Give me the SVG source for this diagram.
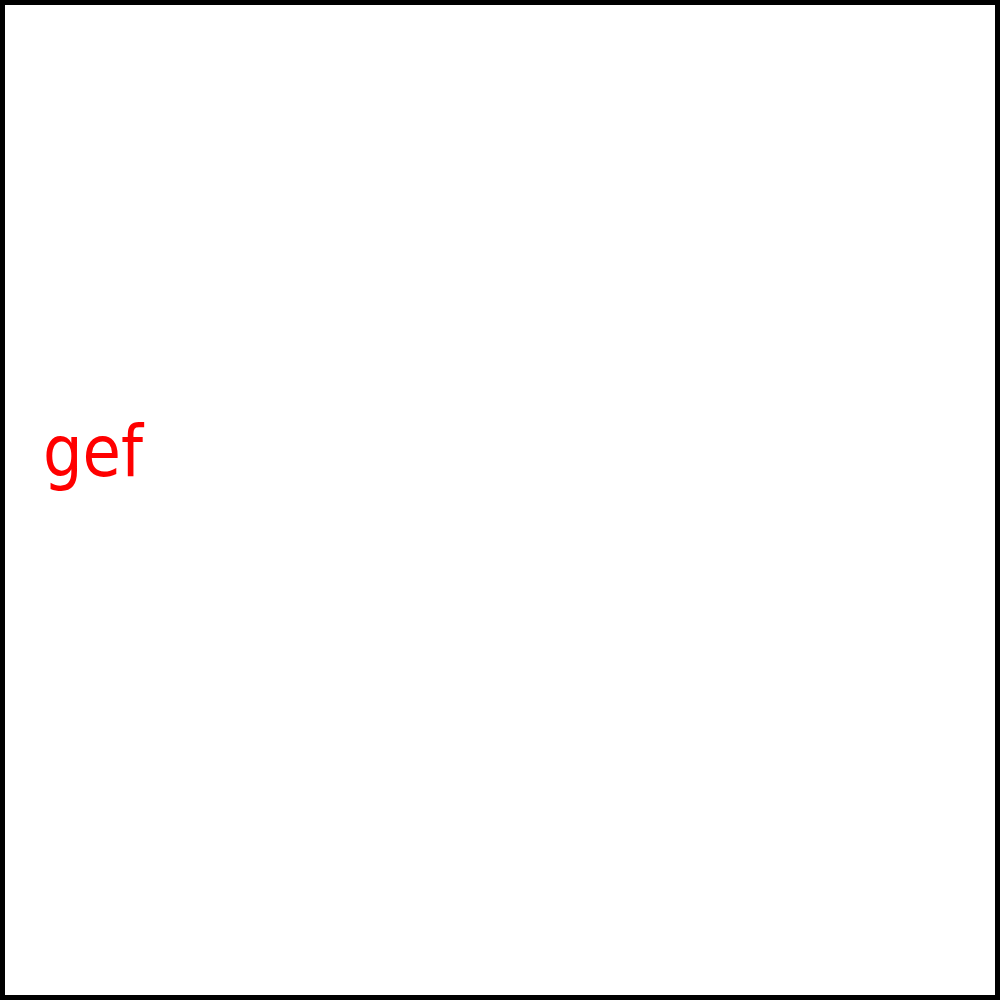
<svg xmlns="http://www.w3.org/2000/svg" width="1000" height="1000" viewBox="0 0 1000 1000">
<style>
.frame{fill:#ffffff;stroke:#000000;stroke-width:5}
.lbl{font-family:"Comic Sans MS","DejaVu Sans",sans-serif;font-size:72px;fill:#ff0000}
</style>
<rect class="frame" x="2.5" y="2.5" width="995" height="995"/>
<g id="label-gef">
<text class="lbl" x="43" y="476" textLength="100" lengthAdjust="spacingAndGlyphs">gef</text>
</g>
</svg>
